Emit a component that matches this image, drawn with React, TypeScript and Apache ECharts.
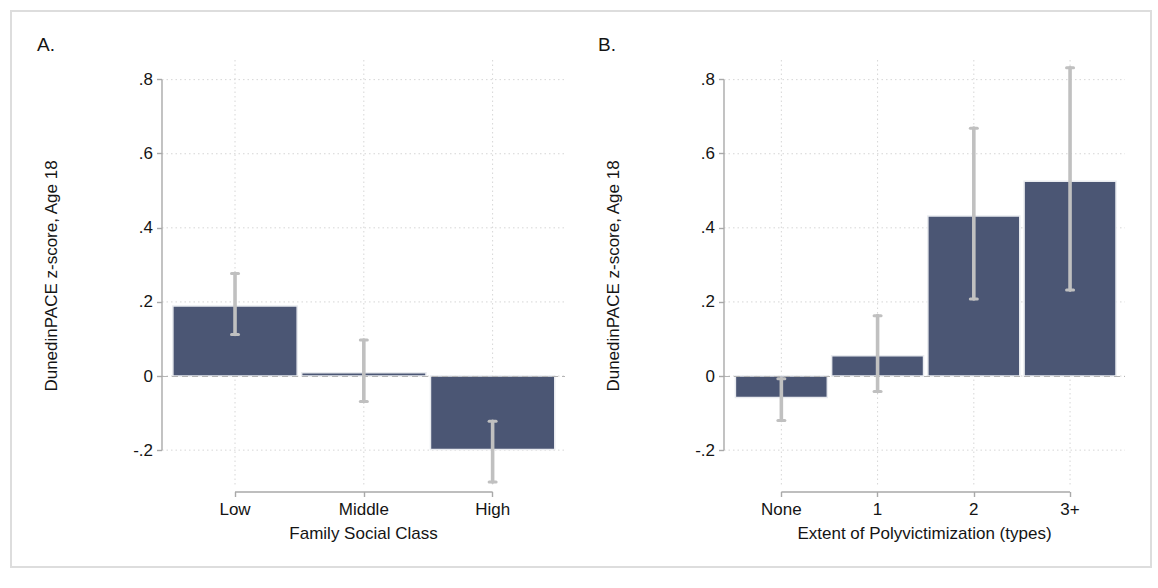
import React, { useEffect, useRef } from "react";
import * as echarts from "echarts";

// ---- data ----
const catsA = ["Low", "Middle", "High"];
const meanA = [0.189, 0.009, -0.198];
const loA = [0.112, -0.069, -0.286];
const hiA = [0.277, 0.097, -0.122];

const catsB = ["None", "1", "2", "3+"];
const meanB = [-0.058, 0.055, 0.432, 0.526];
const loB = [-0.12, -0.042, 0.208, 0.232];
const hiB = [-0.007, 0.163, 0.669, 0.832];

const yTicks = [-0.2, 0, 0.2, 0.4, 0.6, 0.8];
const yTitle = "DunedinPACE z-score, Age 18";
const xTitleA = "Family Social Class";
const xTitleB = "Extent of Polyvictimization (types)";

const FONT = "'Liberation Sans', Arial, Helvetica, sans-serif";
const BAR = "#4b5674";
const BAR_EDGE = "#e9ebef";
const ERR = "#c0c0c0";
const AXIS = "#a9a9a9";
const GRIDC = "#d6d6d6";
const TXT = "#141414";

const fmtY = (v: number) => {
  const r = Math.round(v * 10) / 10;
  if (r === 0) return "0";
  return String(r).replace("0.", ".");
};

function panelSeries(idx: number, cats: string[], mean: number[], lo: number[], hi: number[], barW: number) {
  const pos = cats.map((_, i) => i + 1);
  const common = { xAxisIndex: idx, yAxisIndex: idx, silent: true };
  return [
    // horizontal grid lines
    {
      ...common,
      type: "custom",
      z: 1,
      data: yTicks.map((v) => [pos[0], v]),
      renderItem: (params: any, api: any) => {
        const cs = params.coordSys;
        const p = api.coord([api.value(0), api.value(1)]);
        return {
          type: "line",
          shape: { x1: cs.x, y1: p[1], x2: cs.x + cs.width, y2: p[1] },
          style: { stroke: GRIDC, lineWidth: 1, lineDash: [1.5, 3] },
        };
      },
    },
    // vertical grid lines
    {
      ...common,
      type: "custom",
      z: 1,
      data: pos.map((x) => [x, 0]),
      renderItem: (params: any, api: any) => {
        const cs = params.coordSys;
        const p = api.coord([api.value(0), 0]);
        return {
          type: "line",
          shape: { x1: p[0], y1: cs.y, x2: p[0], y2: cs.y + cs.height - 5 },
          style: { stroke: GRIDC, lineWidth: 1, lineDash: [1.5, 3] },
        };
      },
    },
    // bars
    {
      ...common,
      type: "custom",
      z: 2,
      data: mean.map((v, i) => [pos[i], v]),
      renderItem: (params: any, api: any) => {
        const x = api.value(0);
        const v = api.value(1);
        const a = api.coord([x - barW / 2, Math.max(v, 0)]);
        const b = api.coord([x + barW / 2, Math.min(v, 0)]);
        return {
          type: "rect",
          shape: { x: a[0], y: a[1], width: b[0] - a[0], height: Math.max(b[1] - a[1], 1) },
          style: { fill: BAR, stroke: BAR_EDGE, lineWidth: 1.5 },
        };
      },
      markLine: {
        silent: true,
        symbol: "none",
        label: { show: false },
        lineStyle: { color: "#b5b5b5", type: [6, 4], width: 1.2 },
        data: [{ yAxis: 0 }],
        z: 3,
      },
    },
    // error bars
    {
      ...common,
      type: "custom",
      z: 4,
      data: lo.map((l, i) => [pos[i], l, hi[i]]),
      renderItem: (params: any, api: any) => {
        const x = api.value(0);
        const pl = api.coord([x, api.value(1)]);
        const ph = api.coord([x, api.value(2)]);
        const st = { stroke: ERR, lineWidth: 3.6, lineCap: "round" };
        const cap = { stroke: ERR, lineWidth: 3, lineCap: "round" };
        return {
          type: "group",
          children: [
            { type: "line", shape: { x1: pl[0], y1: pl[1], x2: ph[0], y2: ph[1] }, style: st },
            { type: "line", shape: { x1: pl[0] - 3.5, y1: pl[1], x2: pl[0] + 3.5, y2: pl[1] }, style: cap },
            { type: "line", shape: { x1: ph[0] - 3.5, y1: ph[1], x2: ph[0] + 3.5, y2: ph[1] }, style: cap },
          ],
        };
      },
    },
    // axis lines spanning tick range
    {
      ...common,
      type: "custom",
      z: 5,
      data: [[pos[0], 0]],
      renderItem: (params: any, api: any) => {
        const cs = params.coordSys;
        const yTop = api.coord([pos[0], yTicks[yTicks.length - 1]])[1];
        const yBot = api.coord([pos[0], yTicks[0]])[1];
        const xL = api.coord([pos[0], 0])[0];
        const xR = api.coord([pos[pos.length - 1], 0])[0];
        const by = cs.y + cs.height;
        return {
          type: "group",
          children: [
            { type: "line", shape: { x1: cs.x, y1: yTop, x2: cs.x, y2: yBot }, style: { stroke: AXIS, lineWidth: 1.4 } },
            { type: "line", shape: { x1: xL, y1: by, x2: xR, y2: by }, style: { stroke: AXIS, lineWidth: 1.4 } },
          ],
        };
      },
    },
  ];
}

function xAxisFor(idx: number, cats: string[], min: number, max: number, title: string) {
  const pos = cats.map((_, i) => i + 1);
  return {
    type: "value",
    gridIndex: idx,
    min,
    max,
    name: title,
    nameLocation: "middle",
    nameGap: 33,
    nameTextStyle: { fontFamily: FONT, fontSize: 17, color: TXT },
    axisLine: { show: false, onZero: false },
    axisTick: { show: true, length: 5, customValues: pos, lineStyle: { color: AXIS, width: 1.4 } },
    axisLabel: {
      show: true,
      customValues: pos,
      margin: 9,
      fontFamily: FONT,
      fontSize: 17,
      color: TXT,
      formatter: (v: number) => cats[Math.round(v) - 1] ?? "",
    },
    splitLine: { show: false },
  };
}

function yAxisFor(idx: number) {
  return {
    type: "value",
    gridIndex: idx,
    min: -0.313,
    max: 0.853,
    name: yTitle,
    nameLocation: "middle",
    nameRotate: 90,
    nameGap: 102,
    nameTextStyle: { fontFamily: FONT, fontSize: 17, color: TXT },
    axisLine: { show: false, onZero: false },
    axisTick: { show: true, length: 5, customValues: yTicks, lineStyle: { color: AXIS, width: 1.4 } },
    axisLabel: {
      show: true,
      customValues: yTicks,
      margin: 9,
      fontFamily: FONT,
      fontSize: 17,
      color: TXT,
      formatter: fmtY,
    },
    splitLine: { show: false },
  };
}

export default function App() {
  const ref = useRef<HTMLDivElement>(null);
  useEffect(() => {
    document.body.style.margin = "0";
    const chart = echarts.init(ref.current!, null, { renderer: "svg" });
    chart.setOption({
      animation: false,
      backgroundColor: "#ffffff",
      grid: [
        { left: 162, top: 60, width: 403, height: 432 },
        { left: 724, top: 60, width: 401, height: 432 },
      ],
      xAxis: [xAxisFor(0, catsA, 0.433, 3.562, xTitleA), xAxisFor(1, catsB, 0.404, 4.571, xTitleB)],
      yAxis: [yAxisFor(0), yAxisFor(1)],
      graphic: [
        {
          type: "rect",
          shape: { x: 11, y: 11, width: 1140, height: 556 },
          style: { fill: "none", stroke: "#dddddd", lineWidth: 2 },
          silent: true,
        },
        {
          type: "text",
          x: 37,
          y: 44,
          style: { text: "A.", fontFamily: FONT, fontSize: 19, fill: TXT, textVerticalAlign: "middle" },
        },
        {
          type: "text",
          x: 598,
          y: 44,
          style: { text: "B.", fontFamily: FONT, fontSize: 19, fill: TXT, textVerticalAlign: "middle" },
        },
      ],
      series: [
        ...panelSeries(0, catsA, meanA, loA, hiA, 0.965),
        ...panelSeries(1, catsB, meanB, loB, hiB, 0.955),
      ],
    });
    return () => chart.dispose();
  }, []);
  return <div ref={ref} style={{ position: "fixed", left: 0, top: 0, width: 1158, height: 588 }} />;
}
